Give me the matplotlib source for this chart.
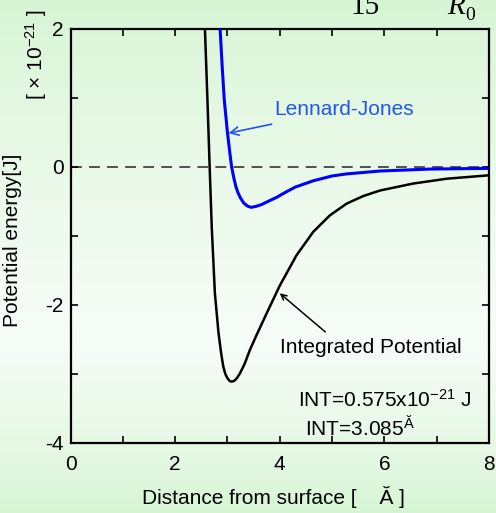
import numpy as np
import matplotlib
matplotlib.use("Agg")
import matplotlib.pyplot as plt

plt.rcParams['font.family'] = ['Liberation Sans', 'DejaVu Sans']
plt.rcParams['mathtext.fontset'] = 'custom'
plt.rcParams['mathtext.rm'] = 'Liberation Sans'
plt.rcParams['mathtext.it'] = 'Liberation Sans:italic'

# integrated potential (x 1e-21 J) vs distance (A)
xInt = [2.57, 2.62, 2.66, 2.70, 2.76, 2.83, 2.88, 2.92, 2.96, 3.00, 3.04, 3.08,
        3.13, 3.18, 3.24, 3.33, 3.43, 3.56, 3.75, 4.00, 4.32, 4.64, 4.96,
        5.28, 5.60, 5.92, 6.55, 7.19, 8.00]
yInt = [2.0, 0.92, 0.0, -0.87, -1.83, -2.41, -2.70, -2.89, -3.00, -3.06, -3.10, -3.11,
        -3.10, -3.06, -2.99, -2.85, -2.65, -2.43, -2.12, -1.72, -1.28, -0.94, -0.70,
        -0.53, -0.42, -0.34, -0.24, -0.17, -0.12]

# Lennard-Jones
xLJ = [2.86, 2.90, 2.94, 3.00, 3.05, 3.08, 3.12, 3.16, 3.20, 3.25, 3.31, 3.38,
       3.45, 3.55, 3.65, 3.80, 3.94, 4.10, 4.30, 4.64, 5.00, 5.28, 5.92, 6.87, 8.00]
yLJ = [2.0, 1.45, 0.97, 0.50, 0.18, 0.0, -0.15, -0.28, -0.37, -0.45, -0.52, -0.565,
       -0.585, -0.57, -0.545, -0.49, -0.44, -0.37, -0.29, -0.20, -0.13, -0.10, -0.058,
       -0.03, -0.02]

xTicks = [0, 1, 2, 3, 4, 5, 6, 7, 8]
xTickLabels = ['0', '', '2', '', '4', '', '6', '', '8']
yTicks = [-4, -3, -2, -1, 0, 1, 2]
yTickLabels = ['-4', '', '-2', '', '0', '', '2']

fig = plt.figure(figsize=(4.96, 5.13), dpi=100)

# background gradient
bg = fig.add_axes([0, 0, 1, 1], zorder=-1)
verde = np.array([0.84, 0.96, 0.83])
blanco = np.array([0.97, 0.99, 0.97])
filas = np.linspace(0, 1, 300)
t = np.where(filas < 0.66, filas / 0.66, (1 - filas) / 0.34)
t = np.clip(t, 0, 1) ** 0.8
grad = verde[None, :] * (1 - t[:, None]) + blanco[None, :] * t[:, None]
bg.imshow(grad[:, None, :], aspect='auto', extent=[0, 1, 0, 1], origin='upper')
bg.axis('off')

ax = fig.add_axes([70.5 / 496, 70 / 513, 418.5 / 496, 414 / 513])
ax.set_facecolor('none')

ax.axhline(0, color='#444444', lw=1.3, dashes=(6, 4), zorder=1)
ax.plot(xInt, yInt, color='black', lw=1.8, zorder=3)
ax.plot(xLJ, yLJ, color='#0000ff', lw=2.2, zorder=4)

ax.set_xlim(0, 8)
ax.set_ylim(-4, 2)
ax.set_xticks(xTicks)
ax.set_xticklabels(xTickLabels)
ax.set_yticks(yTicks)
ax.set_yticklabels(yTickLabels)
ax.tick_params(direction='in', length=5, width=1.2, top=True, right=True,
               labelsize=15)
ax.tick_params(axis='x', pad=9)
ax.tick_params(axis='y', pad=5)
for s in ax.spines.values():
    s.set_linewidth(1.6)

ax.set_ylabel('Potential energy[J]', fontsize=15)
ax.yaxis.set_label_coords(-0.116, 0.49)
ax.set_xlabel('Distance from surface [    Ă ]', fontsize=15)
ax.xaxis.set_label_coords(0.484, -0.105)

ax.text(-0.082, 0.937, '[ × 10$^{-21}$ ]', transform=ax.transAxes, rotation=90,
        fontsize=15, ha='center', va='center')

ax.annotate('Lennard-Jones', xy=(3.02, 0.49), xytext=(3.89, 0.84),
            color='#2255ee', fontsize=15, va='center', ha='left',
            arrowprops=dict(arrowstyle='->', color='#2255ee', lw=1.2,
                            shrinkA=10, shrinkB=0))
ax.annotate('', xy=(4.0, -1.83), xytext=(4.87, -2.39),
            arrowprops=dict(arrowstyle='->', color='black', lw=1.1,
                            shrinkA=0, shrinkB=0))
ax.text(4.0, -2.62, 'Integrated Potential', fontsize=15, va='center', ha='left')

ax.text(4.35, -3.48, 'INT=0.575x10$^{-21}$ J', fontsize=15, va='baseline', ha='left')
ax.text(4.48, -3.91, 'INT=3.085$^{\\mathrm{Ă}}$', fontsize=15, va='baseline', ha='left')

fig.text(350 / 496, (513 - 14) / 513, '15', family='Liberation Serif',
         fontsize=21, va='baseline', ha='left')
fig.text(447 / 496, (513 - 14) / 513, 'R', family='Liberation Serif',
         style='italic', fontsize=21, va='baseline', ha='left')
fig.text(465 / 496, (513 - 20) / 513, '0', family='Liberation Serif',
         fontsize=14, va='baseline', ha='left')

fig.savefig('out.png', dpi=100)
